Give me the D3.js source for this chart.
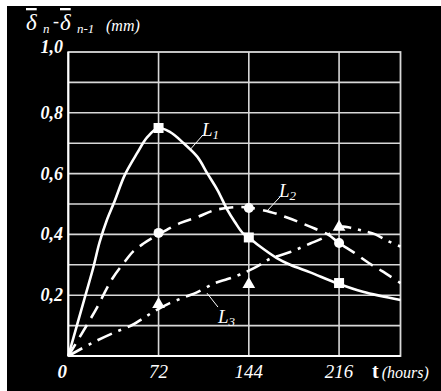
<!DOCTYPE html>
<html><head><meta charset="utf-8">
<script src="https://cdn.jsdelivr.net/npm/d3@7"></script>
<style>
html,body{margin:0;padding:0;background:#fff;}
svg{display:block;}
text{font-family:"Liberation Serif","Times New Roman",serif;fill:#fff;}
</style></head>
<body>
<svg id="chart" width="441" height="391"></svg>
<script>
// ---- data (hours, mm) ----
const xTicks = [0, 72, 144, 216];
const xTickLabels = ["0", "72", "144", "216"];
const yTicks = [0.2, 0.4, 0.6, 0.8, 1.0];
const yTickLabels = ["0,2", "0,4", "0,6", "0,8", "1,0"];
const yGrid = [0.1, 0.2, 0.3, 0.4, 0.5, 0.6, 0.7, 0.8, 0.9];

const L1_curve = [[0,0],[13,0.19],[20,0.292],[25,0.375],[31,0.45],[37,0.51],[45,0.595],[55,0.668],[63,0.72],[72,0.75],[81,0.737],[92,0.70],[103,0.655],[111,0.60],[119,0.546],[127,0.48],[133,0.44],[139,0.405],[144,0.39],[153,0.36],[166,0.323],[177,0.30],[193,0.275],[214,0.24],[235,0.211],[265,0.184]];
const L2_curve = [[0,0],[16,0.11],[23,0.16],[30,0.217],[36,0.26],[45,0.31],[52,0.345],[60,0.37],[72,0.40],[89,0.437],[103,0.457],[117,0.48],[135,0.49],[144,0.488],[161,0.474],[175,0.455],[186,0.437],[196,0.42],[207,0.40],[216,0.372],[228,0.34],[240,0.305],[250,0.28],[265,0.24]];
const L3_curve = [[0,0],[20,0.045],[36,0.076],[51,0.102],[60,0.125],[69,0.148],[81,0.174],[93,0.194],[103,0.21],[117,0.24],[127,0.253],[137,0.268],[150,0.293],[161,0.32],[177,0.342],[193,0.37],[204,0.39],[211,0.41],[218,0.425],[225,0.422],[235,0.412],[245,0.40],[255,0.378],[265,0.36]];

const L1_points = [[72,0.75],[144,0.39],[216,0.24]];
const L2_points = [[72,0.405],[144,0.487],[216,0.372]];
const L3_points = [[72,0.17],[144,0.236],[216,0.424]];

// labels: [textT, textV, leaderFromT, leaderFromV, leaderToT, leaderToV, subscript]
const curveLabels = [
  [106.6, 0.724, 97.0, 0.678, 107.4, 0.727, "1"],
  [168.0, 0.523, 159.2, 0.480, 168.8, 0.523, "2"],
  [119.4, 0.109, 110.6, 0.207, 119.4, 0.161, "3"]
];

// ---- layout ----
const svg = d3.select("#chart");
svg.append("rect").attr("x",7).attr("y",6).attr("width",434).attr("height",385).attr("fill","#000");

const x = d3.scaleLinear().domain([0, 265]).range([68.3, 400.5]);
const y = d3.scaleLinear().domain([0, 1]).range([356, 52]);

const gridColor = "#d8d8d8";
const g = svg.append("g");

g.selectAll("line.hg").data(yGrid).join("line")
  .attr("x1", x(0)).attr("x2", x(265))
  .attr("y1", d => y(d)).attr("y2", d => y(d))
  .attr("stroke", gridColor).attr("stroke-width", 1.6);
g.selectAll("line.vg").data(xTicks.slice(1)).join("line")
  .attr("x1", d => x(d)).attr("x2", d => x(d))
  .attr("y1", y(0)).attr("y2", y(1))
  .attr("stroke", gridColor).attr("stroke-width", 1.6);
g.append("rect").attr("x", x(0)).attr("y", y(1))
  .attr("width", x(265)-x(0)).attr("height", y(0)-y(1))
  .attr("fill","none").attr("stroke", gridColor).attr("stroke-width", 1.8);
g.append("line").attr("x1",x(0)).attr("x2",x(0)).attr("y1",y(0)).attr("y2",y(1)).attr("stroke","#fff").attr("stroke-width",2);
g.append("line").attr("x1",x(0)).attr("x2",x(265)).attr("y1",y(0)).attr("y2",y(0)).attr("stroke","#fff").attr("stroke-width",2);

const line = d3.line().x(d => x(d[0])).y(d => y(d[1])).curve(d3.curveCatmullRom.alpha(0.5));
svg.append("path").datum(L1_curve).attr("d", line).attr("fill","none").attr("stroke","#fff").attr("stroke-width",2.6);
svg.append("path").datum(L2_curve).attr("d", line).attr("fill","none").attr("stroke","#fff").attr("stroke-width",2.6).attr("stroke-dasharray","14,8");
svg.append("path").datum(L3_curve).attr("d", line).attr("fill","none").attr("stroke","#fff").attr("stroke-width",2.6).attr("stroke-dasharray","16,7,3,7");

svg.selectAll("rect.m1").data(L1_points).join("rect")
  .attr("x", d => x(d[0]) - 5).attr("y", d => y(d[1]) - 5).attr("width", 10).attr("height", 10).attr("fill","#fff");
svg.selectAll("circle.m2").data(L2_points).join("circle")
  .attr("cx", d => x(d[0])).attr("cy", d => y(d[1])).attr("r", 5).attr("fill","#fff");
svg.selectAll("path.m3").data(L3_points).join("path")
  .attr("transform", d => `translate(${x(d[0])},${y(d[1])})`)
  .attr("d", d3.symbol(d3.symbolTriangle, 70)).attr("fill","#fff");

curveLabels.forEach(c => {
  svg.append("line").attr("x1", x(c[2])).attr("y1", y(c[3])).attr("x2", x(c[4])).attr("y2", y(c[5]))
    .attr("stroke","#fff").attr("stroke-width",1);
  const t = svg.append("text").attr("x", x(c[0])).attr("y", y(c[1]))
    .attr("font-style","italic").attr("font-size",19);
  t.append("tspan").text("L");
  t.append("tspan").attr("dy",3).attr("font-size",13).text(c[6]);
});

svg.selectAll("text.yl").data(yTicks).join("text")
  .attr("x", 63).attr("y", d => y(d) + (d === 1 ? 1 : 6))
  .attr("text-anchor","end").attr("font-weight","bold").attr("font-style","italic").attr("font-size",18)
  .text((d,i) => yTickLabels[i]);

svg.selectAll("text.xl").data(xTicks).join("text")
  .attr("x", (d,i) => i === 0 ? x(d) - 6 : x(d)).attr("y", 378)
  .attr("text-anchor","middle").attr("font-style","italic")
  .attr("font-weight", (d,i) => i === 0 ? "bold" : "normal").attr("font-size",19)
  .text((d,i) => xTickLabels[i]);

const xt = svg.append("text").attr("x", 372).attr("y", 378);
xt.append("tspan").attr("font-weight","bold").attr("font-size",20).text("t");
xt.append("tspan").attr("dx",3).attr("font-style","italic").attr("font-size",16).text("(hours)");

// y axis title, pieces placed side by side
const titleParts = [
  {t:"\u03B4", x:26, y:30, s:23, over:true},
  {t:"n", x:43, y:33, s:13},
  {t:"-", x:53, y:27, s:18},
  {t:"\u03B4", x:60, y:30, s:23, over:true},
  {t:"n-1", x:77, y:33, s:13},
  {t:"(mm)", x:106, y:31, s:16}
];
svg.selectAll("text.tt").data(titleParts).join("text")
  .attr("x", d => d.x).attr("y", d => d.y).attr("font-size", d => d.s)
  .attr("font-style","italic")
  .style("text-decoration", d => d.over ? "overline" : null)
  .text(d => d.t);
</script>
</body></html>
